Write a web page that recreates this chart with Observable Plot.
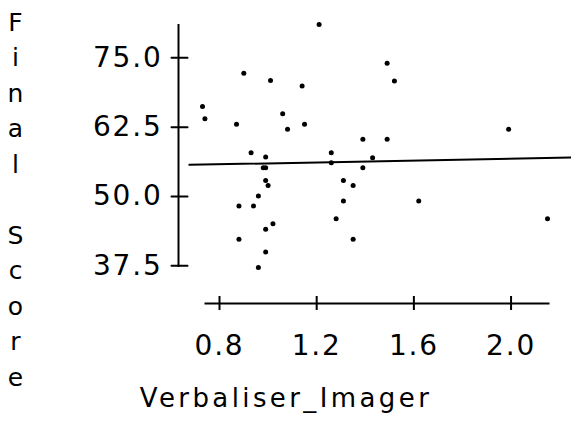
<!DOCTYPE html>
<html>
<head>
<meta charset="utf-8">
<script src="https://cdn.jsdelivr.net/npm/d3@7"></script>
<script src="https://cdn.jsdelivr.net/npm/@observablehq/plot@0.6"></script>
<style>
  html, body { margin: 0; padding: 0; background: #fff; }
</style>
</head>
<body>
<div id="chart"></div>
<script>
// Verbaliser_Imager (x) and Final Score (y)
const verbaliserImager = [1.21, 0.90, 1.01, 1.14, 0.73, 0.74, 0.87, 1.06, 1.08, 1.15,
  1.39, 0.93, 0.99, 1.26, 1.26, 0.98, 0.99, 1.39, 0.99, 1.00,
  1.31, 1.35, 0.96, 0.88, 0.94, 1.31, 1.28, 1.02, 0.99, 0.88,
  1.35, 0.99, 0.96, 1.49, 1.52, 1.99, 1.49, 1.43, 1.62, 2.15];
const finalScore = [81.0, 72.2, 70.9, 69.9, 66.2, 64.0, 63.0, 64.9, 62.1, 63.0,
  60.3, 57.9, 57.1, 57.9, 56.1, 55.2, 55.2, 55.2, 52.9, 52.0,
  52.9, 52.0, 50.1, 48.3, 48.3, 49.2, 46.0, 45.1, 44.1, 42.3,
  42.3, 40.0, 37.2, 74.0, 70.8, 62.1, 60.3, 57.0, 49.2, 46.0];

// fitted trend line (end points)
const trendX = [0.676, 2.25];
const trendY = [55.70, 57.02];

const xTicks = [0.8, 1.2, 1.6, 2.0];
const yTicks = [37.5, 50.0, 62.5, 75.0];
const xLabel = "Verbaliser_Imager";
const yLabel = "Final Score";

const points = verbaliserImager.map((x, i) => ({x, y: finalScore[i]}));
const trend = trendX.map((x, i) => ({x, y: trendY[i]}));
const [xMin, xMax] = d3.extent(verbaliserImager);
const [yMin, yMax] = d3.extent(finalScore);
const fmt = d3.format(".1f");

const W = 571, H = 423, mL = 202, mR = 24, mT = 24, mB = 156;
const frameW = W - mL - mR;

// a plain straight stroke for tick vectors
const tickShape = {draw(context, l) { context.moveTo(0, 0); context.lineTo(0, -l); }};

const chart = Plot.plot({
  width: W,
  height: H,
  marginLeft: mL,
  marginRight: mR,
  marginTop: mT,
  marginBottom: mB,
  style: {fontFamily: "DejaVu Sans", background: "#fff", color: "#000", overflow: "visible"},
  x: {domain: [xMin, xMax]},
  y: {domain: [yMin, yMax]},
  marks: [
    Plot.axisY({anchor: "left", ticks: yTicks, tickFormat: fmt, label: null,
      dx: -15, tickSize: 0, tickPadding: 25, fontSize: 28}),
    Plot.axisX({anchor: "bottom", ticks: xTicks, tickFormat: fmt, label: null,
      dy: 29, tickSize: 14, tickPadding: 25, fontSize: 28, strokeWidth: 2}),
    // y tick marks crossing the detached axis line
    Plot.vector(yTicks, {x: () => xMin, y: d => d, length: 16, rotate: 90, anchor: "middle",
      shape: tickShape, dx: -23, stroke: "#000", strokeWidth: 2}),
    Plot.ruleX([{x: xMin, y1: yMin, y2: yMax}], {x: "x", y1: "y1", y2: "y2", dx: -24, stroke: "#000", strokeWidth: 2}),
    Plot.ruleY([{y: yMin, x1: xMin, x2: xMax}], {y: "y", x1: "x1", x2: "x2", dy: 36, dx: 2.5, stroke: "#000", strokeWidth: 2}),
    Plot.line(trend, {x: "x", y: "y", stroke: "#000", strokeWidth: 2}),
    Plot.dot(points, {x: "x", y: "y", r: 2.5, fill: "#000", stroke: null}),
    Plot.text([xLabel], {text: d => d, frameAnchor: "bottom", textAnchor: "middle", lineAnchor: "bottom",
      dx: (W / 2) - (mL + frameW / 2), dy: 139.7, fontSize: 26, fill: "#000"}),
    Plot.text([yLabel.split("").join("\n")], {text: d => d, frameAnchor: "top-left", textAnchor: "middle", lineAnchor: "top",
      dx: 15 - mL, dy: -19, fontSize: 25, lineHeight: 1.42, fill: "#000"})
  ]
});
// letter spacing of the original typography
chart.querySelectorAll("text").forEach(t => {
  const fs = parseFloat(t.closest("[font-size]")?.getAttribute("font-size") || 0);
  t.style.letterSpacing = fs >= 26 && fs < 27 ? "3.4px" : fs >= 28 ? "1.8px" : "0px";
});
document.getElementById("chart").appendChild(chart);
</script>
</body>
</html>
